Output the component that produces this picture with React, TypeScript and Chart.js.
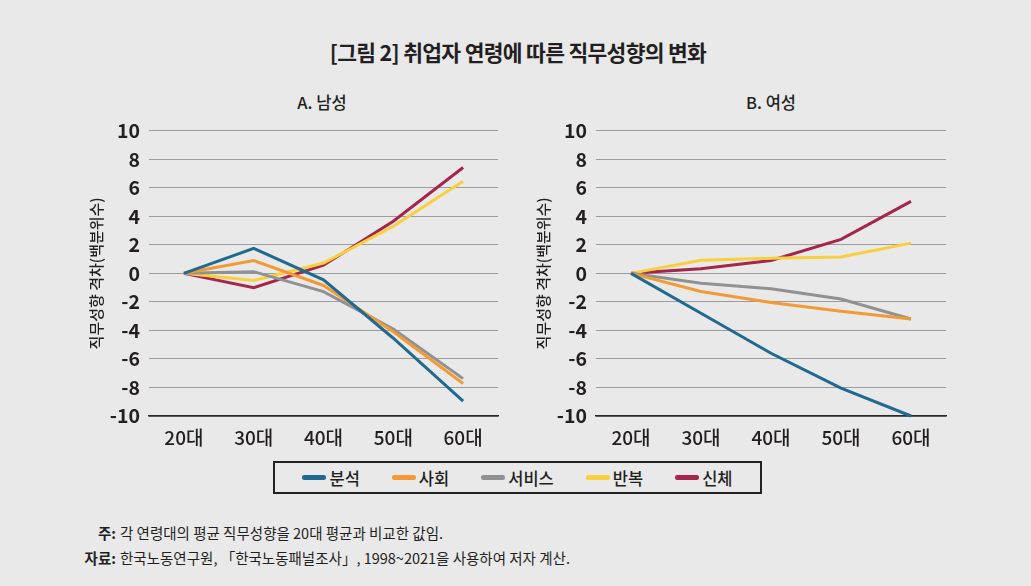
import React, { useEffect, useRef } from "react";
import { Chart, registerables } from "chart.js";

Chart.register(...registerables);

const categories = ["20대", "30대", "40대", "50대", "60대"];
const seriesNames = ["분석", "사회", "서비스", "반복", "신체"];
const seriesColors = ["#1f6a8e", "#f39a35", "#8f9193", "#f8cf3c", "#a5264b"];

const male분석 = [0, 1.75, -0.45, -4.55, -8.95];
const male사회 = [0, 0.9, -0.85, -4.1, -7.72];
const male서비스 = [0, 0.12, -1.28, -3.9, -7.38];
const male반복 = [0, -0.5, 0.72, 3.3, 6.45];
const male신체 = [0, -1.0, 0.57, 3.65, 7.42];

const female분석 = [0, -2.8, -5.6, -8.05, -10.0];
const female사회 = [0, -1.27, -2.05, -2.65, -3.2];
const female서비스 = [0, -0.69, -1.08, -1.8, -3.2];
const female반복 = [0, 0.92, 1.05, 1.15, 2.12];
const female신체 = [0, 0.32, 0.9, 2.38, 5.05];

const yTicks = [10, 8, 6, 4, 2, 0, -2, -4, -6, -8, -10];
const yTitle = "직무성향 격차(백분위수)";
const chartTitle = "[그림 2] 취업자 연령에 따른 직무성향의 변화";
const panelTitles = ["A. 남성", "B. 여성"];

const FONT = "'Noto Sans CJK KR', 'Noto Sans', sans-serif";
const TEXT = "#231f20";
const BG = "#e9e9ea";

function makeChart(canvas: HTMLCanvasElement, values: number[][], yWidth: number, titlePad: number, padRight: number) {
  return new Chart(canvas, {
    type: "line",
    data: {
      labels: categories,
      datasets: values.map((v, i) => ({
        label: seriesNames[i],
        data: v,
        borderColor: seriesColors[i],
        backgroundColor: seriesColors[i],
        borderWidth: 3,
        pointRadius: 0,
        tension: 0,
        clip: 8,
      })),
    },
    options: {
      responsive: false,
      animation: false,
      layout: { padding: { top: 17, right: padRight, left: 0, bottom: 0 } },
      plugins: { legend: { display: false }, tooltip: { enabled: false } },
      scales: {
        x: {
          offset: true,
          grid: { display: false, drawTicks: false },
          border: { display: true, color: "#2a2a2a", width: 1.5 },
          ticks: {
            padding: 10,
            color: TEXT,
            font: { family: FONT, size: 19, weight: "500" },
          },
          afterFit: (axis: any) => {
            axis.height = 44;
          },
        },
        y: {
          min: -10,
          max: 10,
          afterBuildTicks: (axis: any) => {
            axis.ticks = yTicks.map((v) => ({ value: v }));
          },
          grid: {
            drawTicks: false,
            color: (ctx: any) => (ctx.tick && ctx.tick.value === -10 ? "#2a2a2a" : "#9a9c9f"),
            lineWidth: (ctx: any) => (ctx.tick && ctx.tick.value === -10 ? 1.5 : 1),
          },
          border: { display: false },
          ticks: {
            padding: 9,
            color: TEXT,
            font: { family: FONT, size: 19.5, weight: "bold" },
          },
          title: {
            display: true,
            text: yTitle,
            color: TEXT,
            padding: { top: titlePad, bottom: 0 },
            font: { family: FONT, size: 15, weight: "500" },
          },
          afterFit: (axis: any) => {
            axis.width = yWidth;
          },
        },
      },
    },
  } as any);
}

export default function App() {
  const leftRef = useRef<HTMLCanvasElement>(null);
  const rightRef = useRef<HTMLCanvasElement>(null);

  useEffect(() => {
    const a = makeChart(leftRef.current!, [male분석, male사회, male서비스, male반복, male신체], 79, 17, 12);
    const b = makeChart(rightRef.current!, [female분석, female사회, female서비스, female반복, female신체], 80, 18, 10);
    return () => {
      a.destroy();
      b.destroy();
    };
  }, []);

  const abs = (o: React.CSSProperties): React.CSSProperties => ({ position: "absolute", ...o });

  return (
    <div
      style={{
        position: "absolute",
        left: 0,
        top: 0,
        width: 1031,
        height: 586,
        background: BG,
        fontFamily: FONT,
        color: TEXT,
        overflow: "hidden",
      }}
    >
      <div
        style={abs({
          left: 0,
          width: 1036,
          top: 37,
          textAlign: "center",
          fontSize: 21.5,
          fontWeight: 700,
          letterSpacing: -0.7,
          lineHeight: "30px",
        })}
      >
        {chartTitle}
      </div>
      <div style={abs({ left: 222, width: 200, top: 90, textAlign: "center", fontSize: 16.5, fontWeight: 500, lineHeight: "24px" })}>
        {panelTitles[0]}
      </div>
      <div style={abs({ left: 671, width: 200, top: 90, textAlign: "center", fontSize: 16.5, fontWeight: 500, lineHeight: "24px" })}>
        {panelTitles[1]}
      </div>
      <canvas ref={leftRef} width={440} height={350} style={abs({ left: 70, top: 110, width: 440, height: 350 })} />
      <canvas ref={rightRef} width={440} height={350} style={abs({ left: 516, top: 110, width: 440, height: 350 })} />
      <div
        style={abs({
          left: 273,
          top: 461,
          width: 489,
          height: 33,
          boxSizing: "border-box",
          border: "2px solid #222",
          display: "flex",
          alignItems: "center",
          justifyContent: "center",
          gap: 32,
        })}
      >
        {seriesNames.map((n, i) => (
          <div key={n} style={{ display: "flex", alignItems: "center" }}>
            <span
              style={{
                display: "inline-block",
                width: 24,
                height: 4.5,
                borderRadius: 2.25,
                background: seriesColors[i],
                marginRight: 3,
              }}
            />
            <span style={{ fontSize: 16.5, fontWeight: 500, lineHeight: "20px" }}>{n}</span>
          </div>
        ))}
      </div>
      <div style={abs({ left: 60, top: 520, fontSize: 14.5, lineHeight: "25px" })}>
        <div style={{ display: "flex" }}>
          <span style={{ width: 56, textAlign: "right", fontWeight: 700, marginRight: 4 }}>주:</span>
          <span>각 연령대의 평균 직무성향을 20대 평균과 비교한 값임.</span>
        </div>
        <div style={{ display: "flex" }}>
          <span style={{ width: 56, textAlign: "right", fontWeight: 700, marginRight: 4 }}>자료:</span>
          <span>한국노동연구원, 「한국노동패널조사」, 1998~2021을 사용하여 저자 계산.</span>
        </div>
      </div>
    </div>
  );
}
